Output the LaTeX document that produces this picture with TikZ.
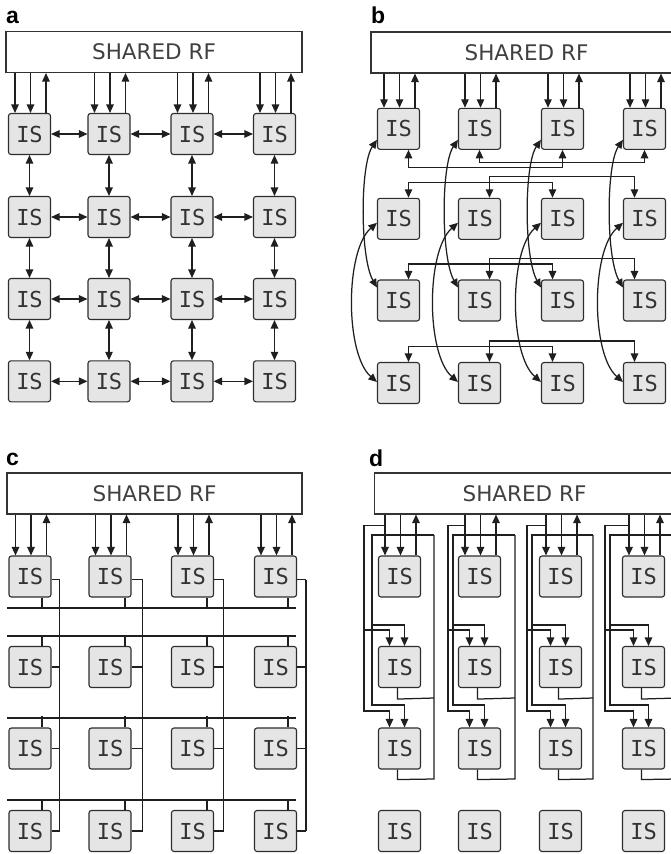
\documentclass[tikz,border=0pt]{standalone}
\usepackage{fontspec}
\setmainfont{DejaVu Sans}
\newfontfamily\isfont{DejaVu Sans Mono}
\newfontfamily\labfont{Liberation Sans}
\usetikzlibrary{arrows.meta,calc}
\begin{document}
\begin{tikzpicture}[x=1pt,y=-1pt,
  isbox/.style={draw=black!82, fill=black!10, rounded corners=2.5pt, minimum width=42pt, minimum height=41pt, inner sep=0pt, line width=1.1pt, font=\isfont\fontsize{22}{22}\selectfont, text=black!80},
  rfbox/.style={draw=black!80, fill=white, line width=1.1pt, inner sep=0pt, minimum height=41pt, font=\fontsize{21.5}{22}\selectfont, text=black!75},
  conn/.style={line width=1.25pt, draw=black!88},
  arr/.style={conn, -{Triangle[length=8.5pt,width=7.5pt]}},
  darr/.style={conn, {Triangle[length=8.5pt,width=7.5pt]}-{Triangle[length=8.5pt,width=7.5pt]}},
  plabel/.style={font=\labfont\bfseries\fontsize{23}{23}\selectfont, anchor=base west, inner sep=0pt}]
\useasboundingbox (0,0) rectangle (671,854);
\fill[white] (0,0) rectangle (671,854);
\clip (0,0) rectangle (671,854);

% labels
\node[plabel] (la) at (6,23) {a};
\node[plabel] (lb) at (371,23) {b};
\node[plabel] (lc) at (6,465) {c};
\node[plabel] (ld) at (369,466) {d};

% shared RF boxes
\node[rfbox, minimum width=296pt] (rfa) at (154,52) {SHARED RF};
\node[rfbox, minimum width=311pt] (rfb) at (526.5,52.5) {SHARED RF};
\node[rfbox, minimum width=295pt] (rfc) at (154.5,493.5) {SHARED RF};
\node[rfbox, minimum width=300pt] (rfd) at (524.5,493.5) {SHARED RF};

% IS boxes
\foreach \c/\x in {1/29.5,2/109,3/192,4/274.5}
  \foreach \r/\y in {1/134,2/217,3/299,4/381.3}
    \node[isbox] (a\r\c) at (\x,\y) {IS};
\foreach \c/\x in {1/398.5,2/479.5,3/562.5,4/644.5}
  \foreach \r/\y in {1/128.8,2/218.8,3/300.5,4/383}
    \node[isbox] (b\r\c) at (\x,\y) {IS};
\foreach \c/\x in {1/30,2/110,3/192.5,4/275.5}
  \foreach \r/\y in {1/576.5,2/667,3/748.5,4/831}
    \node[isbox] (c\r\c) at (\x,\y) {IS};
\foreach \c/\x in {1/399.5,2/479.5,3/560.5,4/643.5}
  \foreach \r/\y in {1/576.5,2/667,3/748.5,4/831}
    \node[isbox] (d\r\c) at (\x,\y) {IS};

% RF <-> first row arrows
\foreach \p in {a,b,c,d}
  \foreach \c in {1,...,4} {
    \draw[arr] ($(rf\p.south -| \p1\c.north)+(-14.5,0)$) -- ($(\p1\c.north)+(-14.5,0)$);
    \draw[arr] ($(rf\p.south -| \p1\c.north)+(1,0)$) -- ($(\p1\c.north)+(1,0)$);
    \draw[arr] ($(\p1\c.north)+(16.5,0)$) -- ($(rf\p.south -| \p1\c.north)+(16.5,0)$);
  }

% ---------- panel a: mesh ----------
\foreach \r in {1,...,4}
  \foreach \c/\d in {1/2,2/3,3/4}
    \draw[darr] (a\r\c.east) -- (a\r\d.west);
\foreach \c in {1,...,4}
  \foreach \r/\s in {1/2,2/3,3/4}
    \draw[darr] (a\r\c.south) -- (a\s\c.north);

% ---------- panel b ----------
\draw[darr] ($(b11.south)+(10,0)$) -- ++(0,18) -| (b13.south);
\draw[darr] (b12.south) -- ++(0,13) -| (b14.south);
\foreach \r in {2,3,4} {
  \draw[darr] ($(b\r1.north)+(10,0)$) -- ++(0,-15.5) -| ($(b\r3.north)+(-10,0)$);
  \draw[darr] ($(b\r2.north)+(10,0)$) -- ++(0,-21) -| ($(b\r4.north)+(-10,0)$);
}
\foreach \c in {1,...,4} {
  \draw[darr] ($(b1\c.west)+(0,11)$) .. controls +(-17,25) and +(-17,-30) .. ($(b3\c.west)+(0,-13)$);
  \draw[darr] ($(b2\c.west)+(0,4)$) .. controls +(-32,28) and +(-32,-28) .. ($(b4\c.west)+(0,-1)$);
}

% ---------- panel c: buses ----------
\foreach \y in {608,636,718,800}
  \draw[conn] (7,\y) -- (296,\y);
\foreach \c/\o/\s in {1/8/12,2/11/15,3/9.5/14.5,4/9/12.5} {
  \draw[conn] ($(c1\c.south)+(\s,0)$) -- ++(0,11);
  \foreach \r in {2,3,4}
    \draw[conn] ($(c\r\c.north)+(\s,0)$) -- ++(0,-11);
  \draw[conn] ($(c1\c.east)+(\o,3)$) -- ($(c4\c.east)+(\o,0)$);
  \draw[conn] ($(c1\c.east)+(0,3)$) -- ++(\o,0);
  \foreach \r in {2,3,4}
    \draw[conn] (c\r\c.east) -- ++(\o,0);
}

% ---------- panel d: chained ----------
\foreach \c/\xo/\xi/\xr in {1/364/372/434,2/448/453/515,3/527/532/593,4/605/610/677} {
  \draw[arr] ($(rfd.south -| d1\c.north)+(-14.5,11)$) -| (\xo,711) -| ($(d3\c.north)+(-10,0)$);
  \draw[arr] (\xo,630) -| ($(d2\c.north)+(-10,0)$);
  \draw[arr] (\xr,535) -- (\xi,535) -- (\xi,705) -| ($(d3\c.north)+(5,0)$);
  \draw[arr] (\xi,625) -| ($(d2\c.north)+(5,0)$);
  \draw[conn] ($(d2\c.south)+(-2,0)$) -- ++(0,11) -- (\xr,698);
  \draw[conn] ($(d3\c.south)+(-2,0)$) -- ++(0,10) -- (\xr,779) -- (\xr,535);
}
\end{tikzpicture}
\end{document}
